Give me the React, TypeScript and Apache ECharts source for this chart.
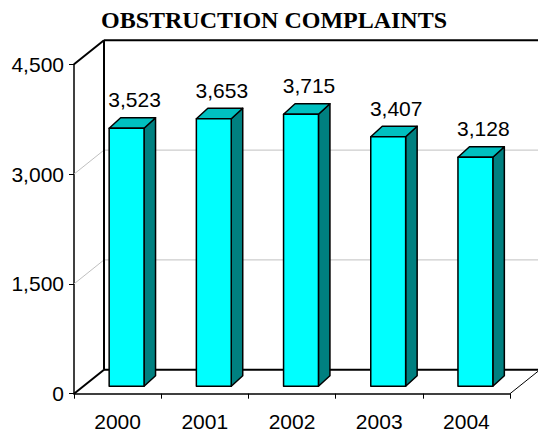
import React, { useEffect, useRef } from 'react';
import * as echarts from 'echarts';

// ---- data ----
const categories = ['2000', '2001', '2002', '2003', '2004'];
const complaints = [3523, 3653, 3715, 3407, 3128];
const yMin = 0;
const yMax = 4500;
const yInterval = 1500;
const gridValues = [1500, 3000];
const titleText = 'OBSTRUCTION COMPLAINTS';

// ---- 3D look (oblique projection) ----
const DEPTH_X = 30;
const DEPTH_Y = 24;
const BAR_FRONT_X = 9;
const BAR_FRONT_Y = 7.5;
const BAR_DX = 11.5;
const BAR_DY = 10.5;
const LABEL_FONT = '"Liberation Sans", Arial, sans-serif';

const fmt = (v: number) => v.toLocaleString('en-US');

export default function App() {
  const ref = useRef<HTMLDivElement>(null);

  useEffect(() => {
    if (!ref.current) return;
    const chart = echarts.init(ref.current, undefined, { renderer: 'svg' });

    const renderWalls = (params: any, api: any) => {
      const cs = params.coordSys;
      const x0 = cs.x, y0 = cs.y, w = cs.width, h = cs.height;
      const children: any[] = [];
      for (const gv of gridValues) {
        const yv = api.coord([0, gv])[1];
        children.push({
          type: 'polyline',
          shape: { points: [[x0, yv], [x0 + DEPTH_X, yv - DEPTH_Y], [x0 + w + DEPTH_X, yv - DEPTH_Y]] },
          style: { stroke: '#c0c0c0', lineWidth: 1, fill: null },
        });
      }
      const line = (x1: number, y1: number, x2: number, y2: number, lw = 2) => ({
        type: 'line',
        shape: { x1, y1, x2, y2 },
        style: { stroke: '#000', lineWidth: lw },
      });
      children.push(line(x0 + DEPTH_X, y0 - DEPTH_Y, x0 + w + DEPTH_X, y0 - DEPTH_Y));
      children.push(line(x0 + DEPTH_X, y0 - DEPTH_Y, x0 + DEPTH_X, y0 + h - DEPTH_Y));
      children.push(line(x0 + DEPTH_X, y0 + h - DEPTH_Y, x0 + w + DEPTH_X, y0 + h - DEPTH_Y));
      children.push(line(x0, y0, x0 + DEPTH_X, y0 - DEPTH_Y));
      children.push(line(x0, y0 + h, x0 + DEPTH_X, y0 + h - DEPTH_Y));
      children.push(line(x0 + w, y0 + h, x0 + w + DEPTH_X, y0 + h - DEPTH_Y, 1));
      return { type: 'group', children };
    };

    const renderBar = (params: any, api: any) => {
      const idx = api.value(0);
      const v = api.value(1);
      const top = api.coord([idx, v]);
      const base = api.coord([idx, 0]);
      const bw = api.size([1, 0])[0] * 0.4;
      const L = top[0] - bw / 2 + BAR_FRONT_X;
      const R = L + bw;
      const T = top[1] - BAR_FRONT_Y;
      const B = base[1] - BAR_FRONT_Y;
      const stroke = { stroke: '#000', lineWidth: 1.5, lineJoin: 'round' };
      return {
        type: 'group',
        children: [
          {
            type: 'polygon',
            shape: { points: [[R, T], [R + BAR_DX, T - BAR_DY], [R + BAR_DX, B - BAR_DY], [R, B]] },
            style: { fill: '#008080', ...stroke },
          },
          {
            type: 'polygon',
            shape: { points: [[L, T], [R, T], [R + BAR_DX, T - BAR_DY], [L + BAR_DX, T - BAR_DY]] },
            style: { fill: '#00c0c0', ...stroke },
          },
          {
            type: 'rect',
            shape: { x: L, y: T, width: bw, height: B - T },
            style: { fill: '#00ffff', ...stroke },
          },
          {
            type: 'text',
            style: {
              text: fmt(v),
              x: top[0] + 17,
              y: T - BAR_DY - 18,
              align: 'center',
              verticalAlign: 'middle',
              textAlign: 'center',
              textVerticalAlign: 'middle',
              font: '21px "Liberation Sans", Arial, sans-serif',
              fontSize: 21,
              fontFamily: LABEL_FONT,
              fill: '#000',
            },
          },
        ],
      };
    };

    chart.setOption({
      animation: false,
      backgroundColor: '#fff',
      title: {
        text: titleText,
        left: 96,
        top: 3,
        textStyle: {
          fontFamily: '"Liberation Serif", "Times New Roman", serif',
          fontWeight: 'bold',
          fontSize: 24,
          color: '#000',
        },
      },
      grid: {
        left: 74,
        right: 28,
        top: 64.3,
        bottom: 39.3,
        containLabel: false,
        outerBoundsMode: 'none',
      },
      xAxis: {
        type: 'category',
        data: categories,
        boundaryGap: true,
        axisLine: { show: true, lineStyle: { color: '#000', width: 1.5 } },
        axisTick: { show: true, length: 5, lineStyle: { color: '#000', width: 1 } },
        axisLabel: { margin: 17, fontSize: 21, fontFamily: LABEL_FONT, color: '#000' },
        splitLine: { show: false },
      },
      yAxis: {
        type: 'value',
        min: yMin,
        max: yMax,
        interval: yInterval,
        axisLine: { show: true, lineStyle: { color: '#000', width: 1.5 } },
        axisTick: { show: true, length: 5, lineStyle: { color: '#000', width: 1 } },
        axisLabel: {
          margin: 10,
          fontSize: 21,
          fontFamily: LABEL_FONT,
          color: '#000',
          formatter: (v: number) => fmt(v),
        },
        splitLine: { show: false },
      },
      series: [
        {
          type: 'custom',
          name: 'walls',
          renderItem: renderWalls,
          data: [[0, 0]],
          encode: { x: 0, y: 1 },
          silent: true,
          z: 1,
          clip: false,
        },
        {
          type: 'custom',
          name: 'Obstruction complaints',
          renderItem: renderBar,
          data: complaints.map((v, i) => [i, v]),
          encode: { x: 0, y: 1 },
          z: 3,
          clip: false,
        },
      ],
    });

    return () => chart.dispose();
  }, []);

  return (
    <div
      ref={ref}
      style={{ position: 'fixed', left: 0, top: 0, width: 538, height: 433, background: '#fff' }}
    />
  );
}
